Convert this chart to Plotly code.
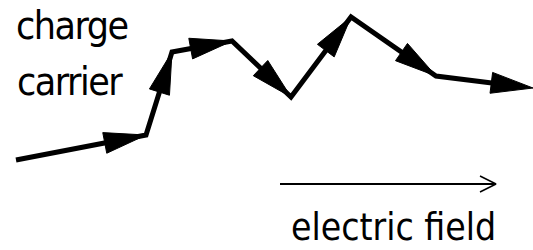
import numpy as np
import plotly.graph_objects as go

# --- data (pixel-like units) ---
path_x = [16, 146, 172, 232, 291, 351, 436, 533]
path_y = [160, 135, 52, 41, 97, 17, 76, 88]

field_x = [280, 496]
field_y = [184, 184]

label_lines = ["charge", "carrier"]
label_x = [14, 15]
label_y = [25, 81]
field_label = "electric field"
field_label_x = 289
field_label_y = 227

# --- style ---
HEAD_LEN = 42
HEAD_W = 21
FIELD_HEAD_LEN = 16
FIELD_HEAD_HALF = 8
FONT = "DejaVu Sans Condensed, Liberation Sans Narrow, sans-serif"

fig = go.Figure()

px_ = np.array(path_x, dtype=float)
py_ = np.array(path_y, dtype=float)

# arrowheads, one per segment, tip at the segment end
hx, hy = [], []
last_base = None
for i in range(len(px_) - 1):
    d = np.array([px_[i + 1] - px_[i], py_[i + 1] - py_[i]])
    u = d / np.hypot(*d)
    n = np.array([-u[1], u[0]])
    tip = np.array([px_[i + 1], py_[i + 1]])
    base = tip - HEAD_LEN * u
    a = base + HEAD_W / 2 * n
    b = base - HEAD_W / 2 * n
    hx += [tip[0], a[0], b[0], tip[0], None]
    hy += [tip[1], a[1], b[1], tip[1], None]
    last_base = tip - HEAD_LEN * 0.5 * u

line_x = list(px_[:-1]) + [last_base[0]]
line_y = list(py_[:-1]) + [last_base[1]]

fig.add_trace(go.Scatter(x=line_x, y=line_y, mode="lines",
                         line=dict(color="black", width=5),
                         hoverinfo="skip"))
fig.add_trace(go.Scatter(x=hx, y=hy, mode="lines", fill="toself",
                         fillcolor="black", line=dict(color="black", width=1),
                         hoverinfo="skip"))

# electric field arrow
fx = np.array(field_x, dtype=float)
fy = np.array(field_y, dtype=float)
d = np.array([fx[1] - fx[0], fy[1] - fy[0]])
u = d / np.hypot(*d)
n = np.array([-u[1], u[0]])
tip = np.array([fx[1], fy[1]])
base = tip - FIELD_HEAD_LEN * u
fig.add_trace(go.Scatter(x=list(fx), y=list(fy), mode="lines",
                         line=dict(color="black", width=2), hoverinfo="skip"))
fig.add_trace(go.Scatter(x=[base[0] + FIELD_HEAD_HALF * n[0], tip[0], base[0] - FIELD_HEAD_HALF * n[0]],
                         y=[base[1] + FIELD_HEAD_HALF * n[1], tip[1], base[1] - FIELD_HEAD_HALF * n[1]],
                         mode="lines", line=dict(color="black", width=1.5),
                         hoverinfo="skip"))

annotations = []
for t, x, y in zip(label_lines, label_x, label_y):
    annotations.append(dict(x=x, y=y, xref="x", yref="y",
                            text='<span style="letter-spacing:-1.5px">%s</span>' % t,
                            showarrow=False,
                            xanchor="left", yanchor="middle",
                            font=dict(family=FONT, size=39, color="black")))
annotations.append(dict(x=field_label_x, y=field_label_y, xref="x", yref="y",
                        text=field_label, showarrow=False,
                        xanchor="left", yanchor="middle",
                        font=dict(family=FONT, size=37, color="black")))

fig.update_layout(
    width=533, height=250,
    margin=dict(l=0, r=0, t=0, b=0),
    paper_bgcolor="white", plot_bgcolor="white",
    showlegend=False,
    xaxis=dict(range=[0, 533], visible=False, fixedrange=True),
    yaxis=dict(range=[250, 0], visible=False, fixedrange=True),
    annotations=annotations,
)

fig.write_html("out.html", config={"displayModeBar": False},
               post_script="document.body.style.margin='0';document.body.style.overflow='hidden';")
